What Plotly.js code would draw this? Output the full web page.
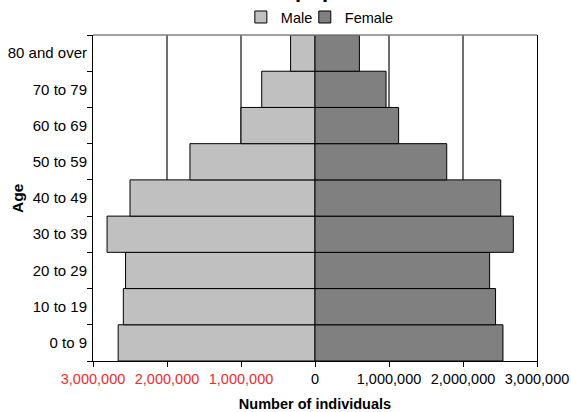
<!DOCTYPE html>
<html>
<head>
<meta charset="utf-8">
<script src="https://cdn.plot.ly/plotly-3.0.1.min.js"></script>
<style>html,body{margin:0;padding:0;background:#fff;}#chart{width:571px;height:412px;}</style>
</head>
<body>
<div id="chart"></div>
<script>
const ageGroups = ["0 to 9","10 to 19","20 to 29","30 to 39","40 to 49","50 to 59","60 to 69","70 to 79","80 and over"];
const maleValues = [2660000,2590000,2560000,2810000,2500000,1690000,1000000,720000,330000];
const femaleValues = [2540000,2440000,2360000,2680000,2510000,1780000,1130000,960000,600000];
const xTickVals = [-3000000,-2000000,-1000000,0,1000000,2000000,3000000];
const xTickText = ["<span style='color:#F52A2A'>3,000,000</span>","<span style='color:#F52A2A'>2,000,000</span>","<span style='color:#F52A2A'>1,000,000</span>","0","1,000,000","2,000,000","3,000,000"];

const font = "Liberation Sans, Arial, sans-serif";

const traces = [
  {type:'bar', orientation:'h', name:'Male', y:ageGroups, x:maleValues.map(v=>-v), legend:'legend',
   marker:{color:'#C0C0C0', line:{color:'#000', width:1}}},
  {type:'bar', orientation:'h', name:'Female', y:ageGroups, x:femaleValues, legend:'legend2',
   marker:{color:'#808080', line:{color:'#000', width:1}}}
];

const legendStyle = {orientation:'h', xanchor:'left', y:1.055, yanchor:'middle',
  font:{family:font, size:14.5, color:'#000'}, itemwidth:30, bgcolor:'rgba(0,0,0,0)'};

const layout = {
  width:571, height:412,
  margin:{l:93, r:34, t:35, b:51, autoexpand:false},
  paper_bgcolor:'#fff', plot_bgcolor:'#fff',
  barmode:'relative', bargap:0,
  font:{family:font, size:14, color:'#000'},
  showlegend:true,
  legend:Object.assign({}, legendStyle, {x:0.333}),
  legend2:Object.assign({}, legendStyle, {x:0.477}),
  xaxis:{range:[-3000000,3000000], tickvals:xTickVals, ticktext:xTickText,
         showgrid:true, gridcolor:'#6E6E6E', gridwidth:1.5, zeroline:false,
         showline:true, linecolor:'#000', linewidth:1, mirror:false,
         ticks:'outside', ticklen:5, tickcolor:'#000', automargin:false,
         tickfont:{family:font, size:14.5, color:'#000'},
         title:{text:'<b>Number of individuals</b>', font:{family:font, size:14.5, color:'#000'}, standoff:12}},
  yaxis:{type:'category', categoryorder:'array', categoryarray:ageGroups,
         tickson:'boundaries', ticks:'outside', ticklen:5, tickcolor:'#000', automargin:false,
         showgrid:false, zeroline:false, showline:true, linecolor:'#000', linewidth:1, mirror:true,
         tickfont:{family:font, size:15, color:'#000'}, ticklabelstandoff:2},
  shapes:[{type:'line', xref:'paper', yref:'paper', x0:0, x1:1, y0:1, y1:1, line:{color:'#808080', width:1.5}}],
  annotations:[
    {text:'<b>Total population</b>', xref:'paper', yref:'paper', x:0.517, y:1.0, yshift:31,
     xanchor:'center', yanchor:'bottom', showarrow:false, font:{family:font, size:22, color:'#000'}},
    {text:'<b>Age</b>', xref:'paper', yref:'paper', x:0, y:0.5, xshift:-76, yshift:0, textangle:-90,
     xanchor:'center', yanchor:'middle', showarrow:false, font:{family:font, size:15.5, color:'#000'}}
  ]
};

Plotly.newPlot('chart', traces, layout, {displayModeBar:false, staticPlot:true});
</script>
</body>
</html>
